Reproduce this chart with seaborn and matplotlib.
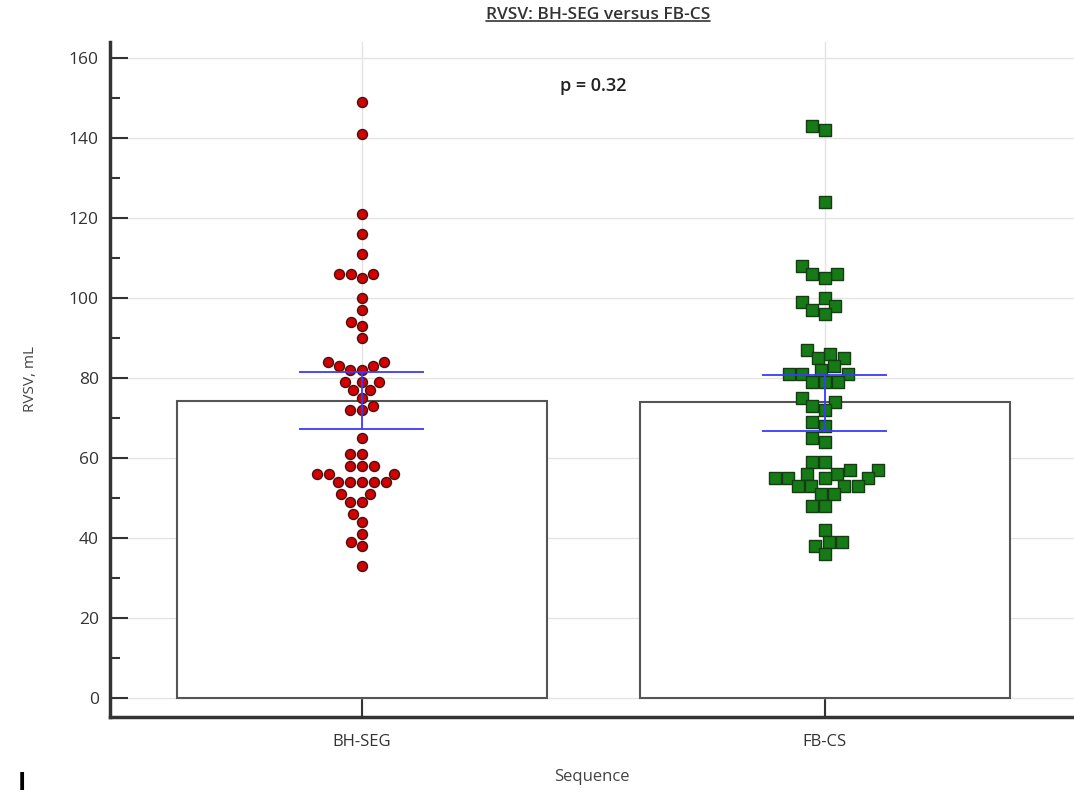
import numpy as np
import pandas as pd
import matplotlib
matplotlib.use("Agg")
import matplotlib.pyplot as plt
from matplotlib.ticker import MultipleLocator
from matplotlib.lines import Line2D
import seaborn as sns

categories = ["BH-SEG", "FB-CS"]
bh_seg = [149, 141, 121, 116, 111, 106, 106, 106, 105, 100, 97, 94, 93, 90,
          84, 84, 83, 83, 82, 82, 79, 79, 79, 77, 77, 75, 73, 72, 72, 65,
          61, 61, 58, 58, 58, 56, 56, 56, 54, 54, 54, 54, 54, 51, 51, 49, 49,
          46, 44, 41, 39, 38, 33]
fb_cs = [143, 142, 124, 108, 106, 106, 105, 100, 99, 98, 97, 96, 87, 86, 85,
         85, 83, 82, 81, 81, 81, 79, 79, 79, 75, 74, 73, 72, 69, 68, 65, 64,
         59, 59, 57, 57, 56, 56, 55, 55, 55, 55, 53, 53, 53, 53, 51, 51, 48,
         48, 42, 39, 39, 38, 36]
means = [74.3, 73.9]
ci_low = [67.2, 66.8]
ci_high = [81.6, 80.8]
yticks = [0, 20, 40, 60, 80, 100, 120, 140, 160]

sns.set_theme(style="white")
plt.rcParams['font.family'] = ['Open Sans', 'DejaVu Sans']

fig = plt.figure(figsize=(10.74, 7.96), dpi=100)
ax = fig.add_axes([110/1074, 79/796, 1 - 110/1074, (717-42)/796])

bar_df = pd.DataFrame({"Sequence": categories, "mean": means})
sns.barplot(data=bar_df, x="Sequence", y="mean", order=categories, color="white",
            edgecolor="#555555", linewidth=1.5, width=0.8, errorbar=None, ax=ax, zorder=2)
for p in ax.patches:
    p.set_facecolor("white")

df_bh = pd.DataFrame({"Sequence": "BH-SEG", "v": bh_seg})
df_fb = pd.DataFrame({"Sequence": "FB-CS", "v": fb_cs})
sns.swarmplot(data=df_bh, x="Sequence", y="v", order=categories, marker="o", size=7.2,
              color="#d40000", edgecolor="#4a1010", linewidth=1.0, ax=ax, zorder=4)
sns.swarmplot(data=df_fb, x="Sequence", y="v", order=categories, marker="s", size=8,
              color="#167a16", edgecolor="#143d14", linewidth=1.0, ax=ax, zorder=4)

for i in range(len(categories)):
    ax.hlines([ci_low[i], ci_high[i]], i - 0.135, i + 0.135, color="#3a3aff", lw=1.3, zorder=5)
    ax.vlines(i, ci_low[i], ci_high[i], color="#3a3aff", lw=1.3, zorder=5)

ax.set_xlim(-0.544, 1.538)
ax.set_ylim(-4.75, 164)
ax.set_yticks(yticks)
ax.yaxis.set_minor_locator(MultipleLocator(10))
ax.grid(True, which="major", color="#e4e4e4", lw=1.0)
ax.set_axisbelow(True)

for s in ["top", "right"]:
    ax.spines[s].set_visible(False)
for s in ["left", "bottom"]:
    ax.spines[s].set_color("#333333")
    ax.spines[s].set_linewidth(2.5)

ax.tick_params(axis="both", which="major", direction="in", length=13, width=1.5,
               color="#333333", labelsize=12.5, labelcolor="#333333", pad=8)
ax.tick_params(axis="y", which="minor", direction="in", length=7, width=1.5, color="#333333", left=True)
ax.tick_params(axis="x", which="major", pad=12, labelsize=12)
ax.tick_params(axis="y", which="major", left=True)
ax.tick_params(axis="x", which="major", bottom=True)

ax.set_xlabel("Sequence", fontsize=12, color="#444444", labelpad=14)
ax.set_ylabel("RVSV, mL", fontsize=11, color="#444444", labelpad=22)

ax.text(0.5, 153, "p = 0.32", fontsize=13, color="#222222", ha="center", va="center",
        fontweight="semibold")

title = fig.text(598/1074, 1 - 15/796, "RVSV: BH-SEG versus FB-CS", fontsize=12.5,
                 color="#333333", ha="center", va="center", fontweight="semibold")
fig.text(22/1074, 0.0, "I", fontsize=18, color="black", ha="center", va="bottom", fontweight="bold")

fig.canvas.draw()
bb = title.get_window_extent().transformed(fig.transFigure.inverted())
fig.add_artist(Line2D([bb.x0, bb.x1], [bb.y0 + 0.002, bb.y0 + 0.002], transform=fig.transFigure,
                      color="#333333", lw=1.2))

fig.savefig("out.png", dpi=100)
